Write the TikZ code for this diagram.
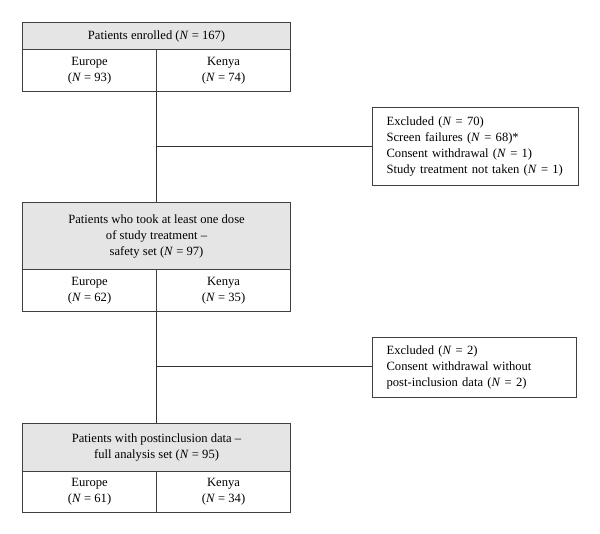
\documentclass[tikz,border=0pt]{standalone}
\usepackage{fontspec}
\setmainfont{Liberation Serif}
\begin{document}
\begin{tikzpicture}[x=1pt,y=-1pt,
  line/.style={draw=black!75, line width=1.1pt},
  txt/.style={font=\fontsize{12.6}{16}\selectfont},
  hdr/.style={line, txt, fill=black!10, anchor=north west, minimum width=268pt, inner sep=0pt, align=center},
  cell/.style={line, txt, fill=white, anchor=north west, minimum width=134pt, inner sep=0pt, align=center},
  exc/.style={line, txt, fill=white, anchor=north west, inner sep=0pt, align=left},
  conn/.style={draw=black!80, line width=0.9pt}]
\useasboundingbox (0,0) rectangle (600,534);
% box 1
\node[hdr, minimum height=27pt] (h1) at (22,22) {Patients enrolled (\textit{N} = 167)};
\node[cell, minimum height=42pt] (eu1) at (22,49) {Europe\\(\textit{N} = 93)};
\node[cell, minimum height=42pt] (ke1) at (156,49) {Kenya\\(\textit{N} = 74)};
% exclusion 1
\node[exc, minimum width=206pt, minimum height=78pt, text width=178pt] (x1) at (372,107) {Excluded (\textit{N} = 70)\\Screen failures (\textit{N} = 68)*\\Consent withdrawal (\textit{N} = 1)\\Study treatment not taken (\textit{N} = 1)};
% box 2
\node[hdr, minimum height=67pt] (h2) at (22,202) {Patients who took at least one dose\\of study treatment --\\safety set (\textit{N} = 97)};
\node[cell, minimum height=42pt] (eu2) at (22,269) {Europe\\(\textit{N} = 62)};
\node[cell, minimum height=42pt] (ke2) at (156,269) {Kenya\\(\textit{N} = 35)};
% exclusion 2
\node[exc, minimum width=204pt, minimum height=60pt, text width=176pt] (x2) at (372,337) {Excluded (\textit{N} = 2)\\Consent withdrawal without\\post-inclusion data (\textit{N} = 2)};
% box 3
\node[hdr, minimum height=48pt] (h3) at (22,423) {Patients with postinclusion data --\\full analysis set (\textit{N} = 95)};
\node[cell, minimum height=41pt] (eu3) at (22,471) {Europe\\(\textit{N} = 61)};
\node[cell, minimum height=41pt] (ke3) at (156,471) {Kenya\\(\textit{N} = 34)};
% connectors
\coordinate (b1) at (156,146);
\coordinate (b2) at (156,366);
\draw[conn] (ke1.south west) -- (ke1.south west |- h2.north);
\draw[conn] (b1) -- (b1 -| x1.west);
\draw[conn] (ke2.south west) -- (ke2.south west |- h3.north);
\draw[conn] (b2) -- (b2 -| x2.west);
\end{tikzpicture}
\end{document}
